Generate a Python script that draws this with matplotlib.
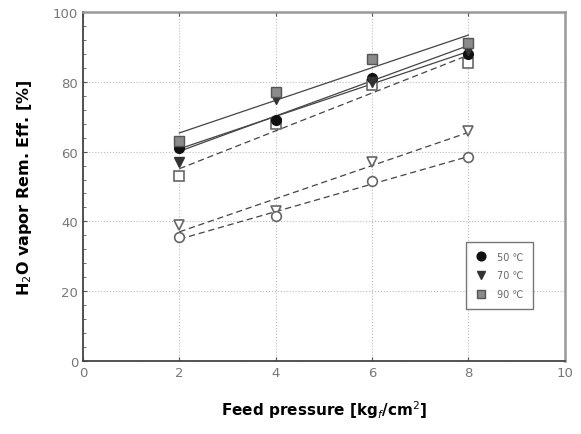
import matplotlib
matplotlib.use("Agg")
import matplotlib.pyplot as plt
import numpy as np
from matplotlib.ticker import MultipleLocator

pressure = [2, 4, 6, 8]
labels = ["50 \u2103", "70 \u2103", "90 \u2103"]
# filled series (in legend)
eff_50 = [61, 69, 81, 88]
eff_70 = [57, 75, 80, 89]
eff_90 = [63, 77, 86.5, 91]
# open series (not in legend)
eff_open_circle = [35.5, 41.5, 51.5, 58.5]
eff_open_tri = [39, 43, 57, 66]
eff_open_sq = [53, 68, 79, 85.5]

fig = plt.figure(figsize=(5.81, 4.35), dpi=100)
ax = fig.add_axes([0.143, 0.168, 0.829, 0.802])

x = np.array(pressure, dtype=float)

def fitline(y, ls):
    p = np.polyfit(x, np.array(y, dtype=float), 1)
    xx = np.array([2.0, 8.0])
    ax.plot(xx, np.polyval(p, xx), ls=ls, color="#444444", lw=0.9,
            dashes=(5, 3) if ls == "--" else (None, None), zorder=2)

fitline(eff_90, "-")
fitline(eff_50, "-")
fitline(eff_70, "-")
fitline(eff_open_sq, "--")
fitline(eff_open_tri, "--")
fitline(eff_open_circle, "--")

ms = 7
ax.plot(x, eff_open_sq, "s", ms=ms, mfc="white", mec="#666666", mew=1.2, ls="none", zorder=3)
ax.plot(x, eff_open_tri, "v", ms=ms, mfc="white", mec="#666666", mew=1.2, ls="none", zorder=3)
ax.plot(x, eff_open_circle, "o", ms=ms, mfc="white", mec="#666666", mew=1.2, ls="none", zorder=3)
h1, = ax.plot(x, eff_50, "o", ms=ms, mfc="#111111", mec="#111111", ls="none", zorder=4, label=labels[0])
h2, = ax.plot(x, eff_70, "v", ms=ms, mfc="#333333", mec="#333333", ls="none", zorder=4, label=labels[1])
h3, = ax.plot(x, eff_90, "s", ms=ms, mfc="#8a8a8a", mec="#555555", mew=1.0, ls="none", zorder=5, label=labels[2])

ax.set_xlim(0, 10)
ax.set_ylim(0, 100)
ax.xaxis.set_major_locator(MultipleLocator(2))
ax.yaxis.set_major_locator(MultipleLocator(20))
ax.yaxis.set_minor_locator(MultipleLocator(4))
ax.tick_params(axis="both", which="both", direction="in", colors="#555555",
               labelcolor="#777777", labelsize=9.5)
ax.tick_params(axis="x", top=True, length=3)
ax.tick_params(axis="y", which="major", length=3)
ax.tick_params(axis="y", which="minor", length=2)
ax.grid(True, which="major", ls=":", color="#bbbbbb", lw=0.8)

for side in ["left", "bottom"]:
    ax.spines[side].set_color("#444444")
    ax.spines[side].set_linewidth(1.3)
for side in ["right", "top"]:
    ax.spines[side].set_color("#999999")
    ax.spines[side].set_linewidth(1.8)

ax.set_xlabel("Feed pressure [kg$_f$/cm$^2$]", fontsize=11, fontweight="bold", labelpad=14)
ax.set_ylabel("H$_2$O vapor Rem. Eff. [%]", fontsize=11.5, fontweight="bold", labelpad=14)

leg = ax.legend(handles=[h1, h2, h3], loc="lower right", bbox_to_anchor=(0.945, 0.135),
                fontsize=7, frameon=True, fancybox=False, edgecolor="#555555",
                handlelength=1.0, borderpad=1.0, labelspacing=0.9, handletextpad=1.2,
                markerscale=0.9)
leg.get_frame().set_linewidth(1.0)
for t in leg.get_texts():
    t.set_color("#666666")

fig.savefig("out.png", dpi=100)
